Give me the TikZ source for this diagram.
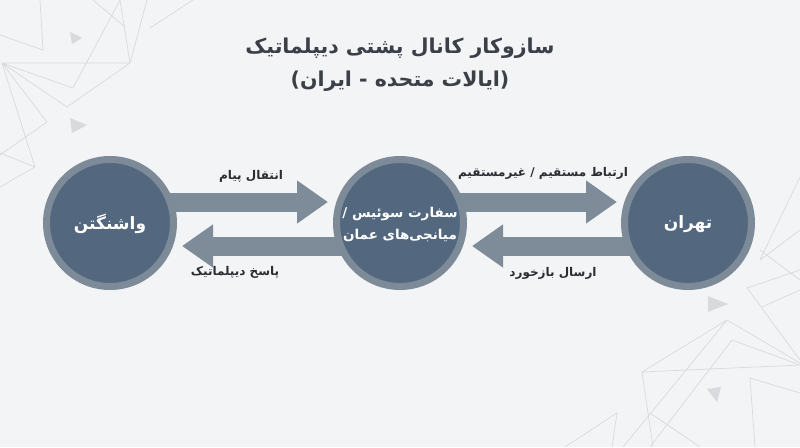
\documentclass[tikz,border=0pt]{standalone}
\usepackage{fontspec}
\TeXXeTstate=1
\newfontfamily\fa[Script=Arabic]{DejaVu Sans}
\usetikzlibrary{arrows.meta,backgrounds}
\definecolor{bgc}{HTML}{F3F4F6}
\definecolor{ringc}{HTML}{7D8A98}
\definecolor{innerc}{HTML}{53687E}
\definecolor{arrowc}{HTML}{7E8B99}
\definecolor{deco}{HTML}{D9DADD}
\definecolor{txt}{HTML}{2A2D31}
\definecolor{titlec}{HTML}{3B4048}
\begin{document}
\begin{tikzpicture}[x=1pt,y=-1pt,
  hub/.style={circle,draw=ringc,line width=7pt,fill=innerc,minimum size=127pt,inner sep=0pt,outer sep=3.5pt},
  hubtext/.style={text=white,font=\fa\bfseries\fontsize{17}{25}\selectfont,align=center,inner sep=0pt},
  hubtextsmall/.style={hubtext,font=\fa\bfseries\fontsize{13.5}{22}\selectfont},
  flow/.style={draw=arrowc,line width=19pt,-{Triangle[length=31pt,width=41pt]}},
  lab/.style={text=txt,font=\fa\bfseries\fontsize{12}{15}\selectfont},
  ttl/.style={text=titlec,font=\fa\bfseries\fontsize{20.5}{26}\selectfont},
  decoline/.style={draw=deco,line width=0.7pt},
  decotri/.style={fill=deco}]
\useasboundingbox (0,0) rectangle (800,447);
% nodes
\node[hub] (W) at (110,223) {};
\node[hub] (S) at (400,223) {};
\node[hub] (T) at (688,223) {};
\node[hubtext] (Wt) at ([yshift=-1pt]W.center) {\beginR واشنگتن\endR};
\node[hubtextsmall] (St) at ([yshift=-2pt]S.center) {\beginR سفارت سوئیس /\endR\\\beginR میانجی‌های عمان\endR};
\node[hubtext] (Tt) at ([yshift=-1pt]T.center) {\beginR تهران\endR};
\node[ttl] (t1) at (400,48) {\beginR سازوکار کانال پشتی دیپلماتیک\endR};
\node[ttl] (t2) at (400,81) {\beginR (ایالات متحده - ایران)\endR};
\node[lab] (l1) at (251,176) {\beginR انتقال پیام\endR};
\node[lab] (l2) at (235,272) {\beginR پاسخ دیپلماتیک\endR};
\node[lab] (l3) at (543,173) {\beginR ارتباط مستقیم / غیرمستقیم\endR};
\node[lab] (l4) at (553,273) {\beginR ارسال بازخورد\endR};
\begin{scope}[on background layer]
\fill[bgc] (0,0) rectangle (800,447);
% decoration top-left
\draw[decoline] (0,35)--(43,50) (40,0)--(43,50) (2,63)--(130,63) (2,63)--(73,88)
  (73,88)--(120,0) (120,0)--(130,63) (147,0)--(130,63) (2,63)--(67,107) (67,107)--(130,63)
  (2,63)--(47,122) (47,122)--(0,155) (0,153)--(35,167) (35,167)--(0,187) (2,63)--(35,167)
  (150,28)--(193,0) (93,0)--(125,27);
\fill[decotri] (70,32)--(82,38)--(72,44)--cycle;
\fill[decotri] (70,118)--(87,125)--(72,133)--cycle;
% decoration bottom-right
\draw[decoline] (727,320)--(642,372) (727,320)--(800,363) (727,320)--(623,447)
  (732,340)--(800,365) (732,340)--(650,447) (642,372)--(800,365) (642,372)--(653,447)
  (750,378)--(800,393) (750,378)--(755,447) (565,447)--(617,413) (617,413)--(612,447)
  (650,413)--(700,447) (760,250)--(800,280) (747,288)--(800,270) (747,288)--(800,360)
  (762,307)--(800,290) (760,260)--(800,177) (760,260)--(800,230);
\fill[decotri] (708,296)--(728,304)--(708,312)--cycle;
\fill[decotri] (707,389)--(721,387)--(717,402)--cycle;
% arrows
\draw[flow] ([yshift=21pt]W.center) -- ([yshift=21pt,xshift=-5pt]S.west);
\draw[flow] ([yshift=-23pt]S.center) -- ([yshift=-23pt,xshift=5pt]W.east);
\draw[flow] ([yshift=21pt]S.center) -- ([yshift=21pt,xshift=-4pt]T.west);
\draw[flow] ([yshift=-23pt]T.center) -- ([yshift=-23pt,xshift=5pt]S.east);
\end{scope}
\end{tikzpicture}
\end{document}
